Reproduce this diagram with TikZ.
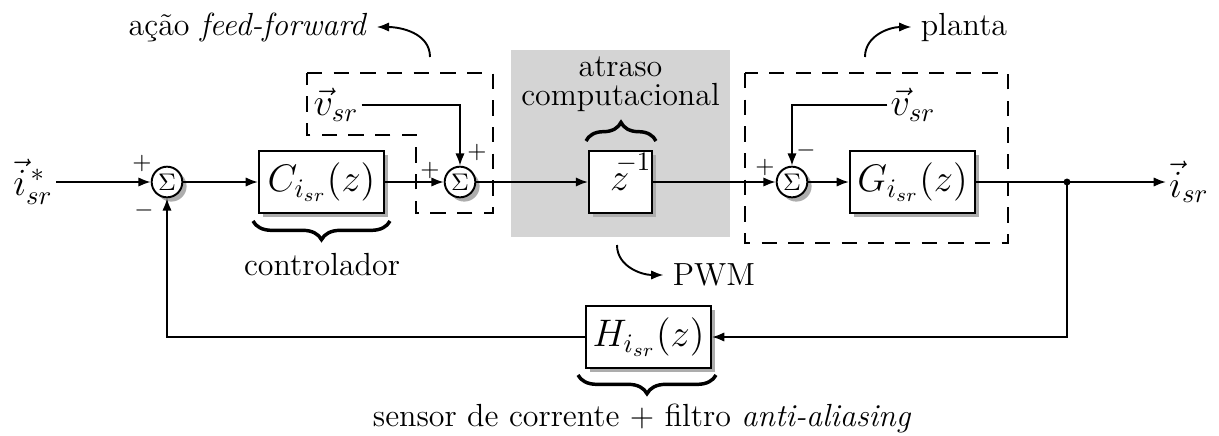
\documentclass[tikz,border=0pt]{standalone}
\usetikzlibrary{arrows.meta,shadows,decorations.pathreplacing}
\begin{document}
\begin{tikzpicture}[x=0.375pt,y=-0.375pt,font=\large,
  lw/.style={line width=0.72pt},
  arr/.style={lw,-{Latex[length=4.6pt,width=3.5pt]}},
  shad/.style={drop shadow={opacity=1,fill=black!32,shadow xshift=1.6pt,shadow yshift=-1.6pt}},
  blk/.style={draw,lw,fill=white,minimum width=46.9pt,minimum height=23.25pt,inner sep=0pt,font=\Large,shad},
  zblk/.style={blk,minimum width=23.6pt},
  sumn/.style={circle,draw,lw,fill=white,minimum size=11.5pt,inner sep=0pt,font=\small,shad},
  sgn/.style={font=\small,inner sep=0pt},
  dashbox/.style={lw,dash pattern=on 5.8pt off 4.2pt},
  brc/.style={decorate,decoration={brace,amplitude=7pt},line width=1.3pt},
  mlbl/.style={inner sep=1pt,font=\Large}
]
\useasboundingbox (0,0) rectangle (1219,436);
% gray delay region
\node[fill=black!17,minimum width=82.1pt,minimum height=70.1pt,inner sep=0pt] (delay) at (620.5,143.5) {};
% dashed groups
\draw[dashbox] (307,73) -- (493,73) -- (493,213) -- (416,213) -- (416,135) -- (307,135) -- cycle;
\draw[dashbox] (745,73) rectangle (1008,243);
% blocks
\node[sumn] (s1) at (167,182) {$\Sigma$};
\node[blk] (C) at (321.5,182) {$C_{i_{sr}}(z)$};
\node[sumn] (s2) at (460,182) {$\Sigma$};
\node[zblk] (Z) at (620.5,182) {$z^{\rlap{\smash{$\kern-5pt\raisebox{2.2pt}{$\scriptstyle -1$}$}}}$};
\node[sumn] (s3) at (792,182) {$\Sigma$};
\node[blk] (G) at (912.5,182) {$G_{i_{sr}}(z)$};
\node[blk] (H) at (648.5,337) {$H_{i_{sr}}(z)$};
\coordinate (dot) at (1067,182);
\fill (dot) circle (1.3pt);
% signal labels
\node[mlbl,anchor=east] (in) at (56,182) {$\vec{i}^{\,*}_{sr}$};
\node[mlbl,anchor=west] (out) at (1166,182) {$\vec{i}_{sr}$};
\node[mlbl] (v1) at (336,105) {$\vec{v}_{sr}$};
\node[mlbl] (v2) at (913,105) {$\vec{v}_{sr}$};
% signs
\node[sgn] (p1) at (142,163) {$+$};
\node[sgn] (m1) at (144,210) {$-$};
\node[sgn] (p2) at (430,170) {$+$};
\node[sgn] (p3) at (477,152) {$+$};
\node[sgn] (p4) at (765,167) {$+$};
\node[sgn] (m2) at (806,150) {$-$};
% connectors
\draw[arr] (in.east) -- (s1.west);
\draw[arr] (s1) -- (C);
\draw[arr] (C) -- (s2);
\draw[arr] (s2) -- (Z);
\draw[arr] (Z) -- (s3);
\draw[arr] (s3) -- (G);
\draw[lw] (G) -- (dot);
\draw[arr] (dot) -- (out.west);
\draw[arr] (dot) |- (H);
\draw[arr] (H) -| (s1);
\draw[arr] (v1) -| (s2);
\draw[arr] (v2) -| (s3);
% annotations
\node (atr) at (620.5,84) [align=center,inner sep=0pt] {atraso\\[-3pt]computacional};
\draw[brc] (586,141) -- (656,141);
\draw[brc] (390,221) -- (253,221);
\draw[brc] (716,375) -- (578,375);
\node (ctrl) at (322,265) {controlador};
\node (sens) at (642,418) {sensor de corrente $+$ filtro \textit{anti-aliasing}};
\node (ff) at (248,27) {ação \textit{feed-forward}};
\coordinate (ffs) at (430,57);
\draw[arr] (ffs) to[out=90,in=0] (ff.east);
\node (planta) at (964,27) {planta};
\coordinate (pls) at (865,57);
\draw[arr] (pls) to[out=90,in=180] (planta.west);
\node (pwm) at (714,275) {PWM};
\coordinate (pws) at (617,245);
\draw[arr] (pws) to[out=-90,in=180] (pwm.west);
\end{tikzpicture}
\end{document}
